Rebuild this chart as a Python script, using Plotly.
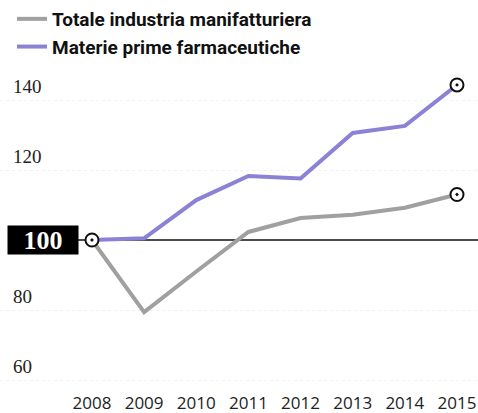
import plotly.graph_objects as go

years = [2008, 2009, 2010, 2011, 2012, 2013, 2014, 2015]
totale = [100, 79.4, 91, 102.3, 106.3, 107.2, 109.2, 113]
materie = [100, 100.5, 111.4, 118.3, 117.6, 130.6, 132.6, 144.3]
series_names = ["Totale industria manifatturiera", "Materie prime farmaceutiche"]
ytick_vals = [60, 80, 120, 140]
base_value = 100

GRAY = "#a0a0a0"
PURPLE = "#8b82d6"

fig = go.Figure()
fig.add_trace(go.Scatter(x=years, y=totale, mode="lines", name=series_names[0],
                         line=dict(color=GRAY, width=4)))
fig.add_trace(go.Scatter(x=years, y=materie, mode="lines", name=series_names[1],
                         line=dict(color=PURPLE, width=4)))

# base reference line at 100
fig.add_shape(type="line", xref="paper", yref="y", x0=76/478, x1=1, y0=base_value, y1=base_value,
              line=dict(color="#111111", width=1.3), layer="below")

# end markers (circled dots)
mx = [years[0], years[-1], years[-1]]
my = [materie[0], totale[-1], materie[-1]]
fig.add_trace(go.Scatter(x=mx, y=my, mode="markers", showlegend=False,
                         marker=dict(symbol="circle-dot", size=13, color="white",
                                     line=dict(color="#111111", width=2))))

fig.add_annotation(xref="paper", yref="y", x=43/478, y=base_value, text="<b>100</b>",
                   xanchor="center", yanchor="middle",
                   showarrow=False, bgcolor="#000000", borderpad=0,
                   font=dict(family="Liberation Serif", size=26, color="white"),
                   width=70, height=28)

fig.update_layout(
    width=478, height=413,
    margin=dict(l=0, r=0, t=0, b=22),
    paper_bgcolor="white", plot_bgcolor="white",
    showlegend=True,
    legend=dict(x=12/478, y=1.0, xanchor="left", yanchor="top",
                font=dict(family="Roboto", size=19, color="#111111", weight="bold"),
                bgcolor="rgba(0,0,0,0)", tracegroupgap=0, itemwidth=30),
    xaxis=dict(range=[2006.236, 2015.403], tickvals=years, showgrid=False,
               zeroline=False, showline=False, ticks="",
               tickfont=dict(family="Open Sans", size=17, color="#222222")),
    yaxis=dict(range=[56.857, 168.571], tickvals=ytick_vals, showgrid=True,
               gridcolor="#f0f0f0", griddash="dot", gridwidth=1,
               zeroline=False, showline=False, ticks="",
               ticklabelposition="inside top", ticklabelstandoff=10,
               tickfont=dict(family="Liberation Serif", size=19, color="#222222")),
)

fig.write_html("out.html", config={"displayModeBar": False},
               post_script="document.body.style.margin='0px';document.body.style.overflow='hidden';")
